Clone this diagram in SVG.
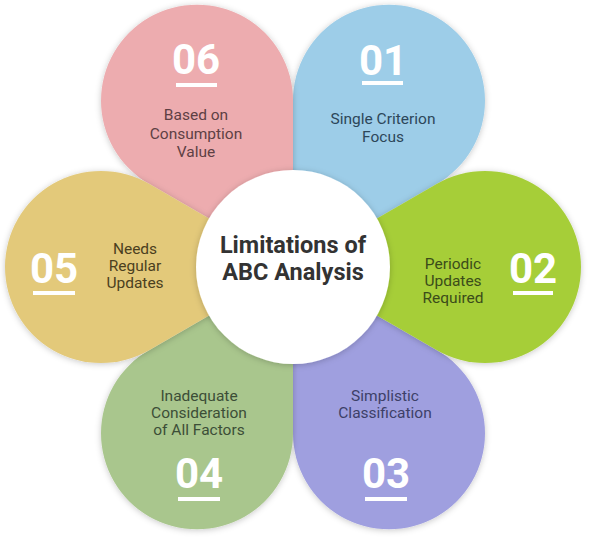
<svg xmlns="http://www.w3.org/2000/svg" width="600" height="538" viewBox="0 0 600 538">
<defs>
<filter id="sh" x="-20%" y="-20%" width="140%" height="140%">
<feDropShadow dx="0" dy="1" stdDeviation="3" flood-color="#000" flood-opacity="0.22"/>
</filter>
<style>
.num{font-family:Roboto,"Liberation Sans",sans-serif;font-weight:700;font-size:42px;fill:#fff;text-anchor:middle}
.lbl{font-family:Roboto,"Liberation Sans",sans-serif;font-size:15.5px;text-anchor:middle}
.title{font-family:Roboto,"Liberation Sans",sans-serif;font-weight:700;font-size:23.5px;fill:#333;text-anchor:middle}
.ul{fill:#fff}
.petal{filter:url(#sh)}
</style>
</defs>
<rect width="600" height="538" fill="#fff"/>
<g id="p01">
<path class="petal" d="M293,267 L293,100.72 A96,96 0 1 1 437,183.86 Z" fill="#9DCDE8"/>
</g>
<g id="p06">
<path class="petal" d="M293,267 L149,183.86 A96,96 0 1 1 293,100.72 Z" fill="#EDACAF"/>
</g>
<g id="p03">
<path class="petal" d="M293,267 L437,350.14 A96,96 0 1 1 293,433.28 Z" fill="#9F9FDF"/>
</g>
<g id="p04">
<path class="petal" d="M293,267 L293,433.28 A96,96 0 1 1 149,350.14 Z" fill="#A9C68D"/>
</g>
<g id="p02">
<path class="petal" d="M293,267 L437,183.86 A96,96 0 1 1 437,350.14 Z" fill="#A6CE39"/>
</g>
<g id="p05">
<path class="petal" d="M293,267 L149,350.14 A96,96 0 1 1 149,183.86 Z" fill="#E3C97A"/>
</g>
<g id="center">
<circle cx="293" cy="267" r="97" fill="#fff" filter="url(#sh)"/>
<text class="title" x="293" y="253">Limitations of</text>
<text class="title" x="293" y="280">ABC Analysis</text>
</g>
<g id="t06">
<text class="num" x="196" y="74">06</text>
<rect class="ul" x="176" y="83" width="41" height="4"/>
<text class="lbl" fill="#5E4044" x="196" y="120">Based on</text>
<text class="lbl" fill="#5E4044" x="196" y="138.5">Consumption</text>
<text class="lbl" fill="#5E4044" x="196" y="157">Value</text>
</g>
<g id="t01">
<text class="num" x="383" y="75">01</text>
<rect class="ul" x="362" y="81" width="41" height="4"/>
<text class="lbl" fill="#2D475A" x="383" y="124">Single Criterion</text>
<text class="lbl" fill="#2D475A" x="383" y="142">Focus</text>
</g>
<g id="t02">
<text class="num" x="533" y="283">02</text>
<rect class="ul" x="513" y="291" width="40" height="4"/>
<text class="lbl" fill="#3B4C1A" x="453" y="269">Periodic</text>
<text class="lbl" fill="#3B4C1A" x="453" y="286">Updates</text>
<text class="lbl" fill="#3B4C1A" x="453" y="303">Required</text>
</g>
<g id="t03">
<text class="num" x="386" y="488">03</text>
<rect class="ul" x="365" y="497" width="42" height="4"/>
<text class="lbl" fill="#3D3F68" x="385" y="401">Simplistic</text>
<text class="lbl" fill="#3D3F68" x="385" y="418">Classification</text>
</g>
<g id="t04">
<text class="num" x="199" y="488">04</text>
<rect class="ul" x="178" y="497" width="42" height="4"/>
<text class="lbl" fill="#3C4E37" x="199" y="401">Inadequate</text>
<text class="lbl" fill="#3C4E37" x="199" y="418">Consideration</text>
<text class="lbl" fill="#3C4E37" x="199" y="435">of All Factors</text>
</g>
<g id="t05">
<text class="num" x="54" y="283">05</text>
<rect class="ul" x="33" y="291" width="42" height="4"/>
<text class="lbl" fill="#4B4020" x="135" y="254">Needs</text>
<text class="lbl" fill="#4B4020" x="135" y="271">Regular</text>
<text class="lbl" fill="#4B4020" x="135" y="288">Updates</text>
</g>
</svg>
